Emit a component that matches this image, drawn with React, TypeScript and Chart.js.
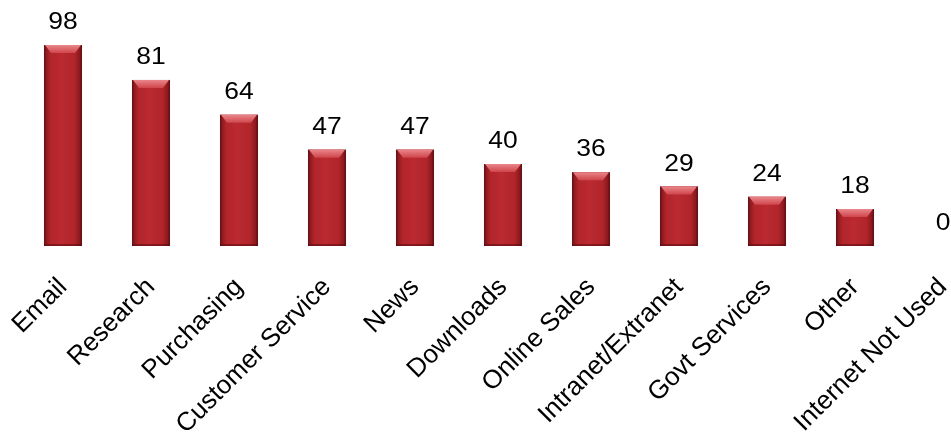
import React, { useEffect, useRef } from "react";
import { Chart, registerables } from "chart.js";

Chart.register(...registerables);

const categories = [
  "Email",
  "Research",
  "Purchasing",
  "Customer Service",
  "News",
  "Downloads",
  "Online Sales",
  "Intranet/Extranet",
  "Govt Services",
  "Other",
  "Internet Not Used",
];
const values = [98, 81, 64, 47, 47, 40, 36, 29, 24, 18, 0];

const FONT = "'Liberation Sans', Arial, sans-serif";

const barStylePlugin = {
  id: "barStyle",
  afterDatasetsDraw(chart: any) {
    const ctx = chart.ctx;
    const meta = chart.getDatasetMeta(0);
    meta.data.forEach((bar: any, i: number) => {
      const { x, y, width, base } = bar.getProps(["x", "y", "width", "base"], true);
      const left = x - width / 2;
      const h = base - y;
      if (h > 0.5) {
        ctx.save();
        const g = ctx.createLinearGradient(left, 0, left + width, 0);
        g.addColorStop(0, "#5e1014");
        g.addColorStop(0.06, "#8e1a1f");
        g.addColorStop(0.16, "#b0252b");
        g.addColorStop(0.45, "#bb2a30");
        g.addColorStop(0.8, "#b0252b");
        g.addColorStop(0.93, "#8e1a1f");
        g.addColorStop(1, "#5a0f13");
        ctx.fillStyle = g;
        ctx.fillRect(left, y, width, h);
        const bev = Math.min(8, h / 2);
        const tg = ctx.createLinearGradient(0, y, 0, y + bev);
        tg.addColorStop(0, "#e9868a");
        tg.addColorStop(1, "#cf454b");
        ctx.fillStyle = tg;
        ctx.beginPath();
        ctx.moveTo(left + 1, y);
        ctx.lineTo(left + width - 1, y);
        ctx.lineTo(left + width - 7, y + bev);
        ctx.lineTo(left + 7, y + bev);
        ctx.closePath();
        ctx.fill();
        ctx.fillStyle = "rgba(90,10,14,0.55)";
        ctx.fillRect(left, base - 2, width, 2);
        ctx.restore();
      }
      ctx.save();
      ctx.fillStyle = "#000";
      ctx.font = `23px ${FONT}`;
      ctx.textAlign = "center";
      ctx.textBaseline = "alphabetic";
      ctx.translate(x, y - 16);
      ctx.scale(1.15, 1);
      ctx.fillText(String(values[i]), 0, 0);
      ctx.restore();
    });
  },
};

export default function App() {
  const ref = useRef<HTMLCanvasElement>(null);
  useEffect(() => {
    if (!ref.current) return;
    const chart = new Chart(ref.current, {
      type: "bar",
      data: {
        labels: categories,
        datasets: [
          {
            data: values,
            backgroundColor: "#b8262c",
            barPercentage: 0.432,
            categoryPercentage: 1,
          },
        ],
      },
      options: {
        animation: false,
        responsive: false,
        maintainAspectRatio: false,
        layout: { padding: { left: 19, right: 13, top: 41, bottom: 0 } },
        plugins: { legend: { display: false }, tooltip: { enabled: false } },
        scales: {
          x: {
            grid: { display: false, drawTicks: false },
            border: { display: false },
            ticks: {
              color: "#000",
              font: { family: FONT, size: 26 },
              maxRotation: 45,
              minRotation: 45,
              autoSkip: false,
              padding: 26,
            },
            afterFit: (scale: any) => {
              scale.height = 192;
              scale.paddingLeft = 0;
              scale.paddingRight = 0;
            },
          },
          y: {
            display: false,
            min: 0,
            max: 100,
          },
        },
      },
      plugins: [barStylePlugin],
    });
    return () => chart.destroy();
  }, []);
  return (
    <div style={{ position: "fixed", left: 0, top: 0, width: 951, height: 438, overflow: "hidden", background: "#fff" }}>
      <canvas ref={ref} width={1000} height={438} style={{ width: 1000, height: 438, display: "block" }} />
    </div>
  );
}
